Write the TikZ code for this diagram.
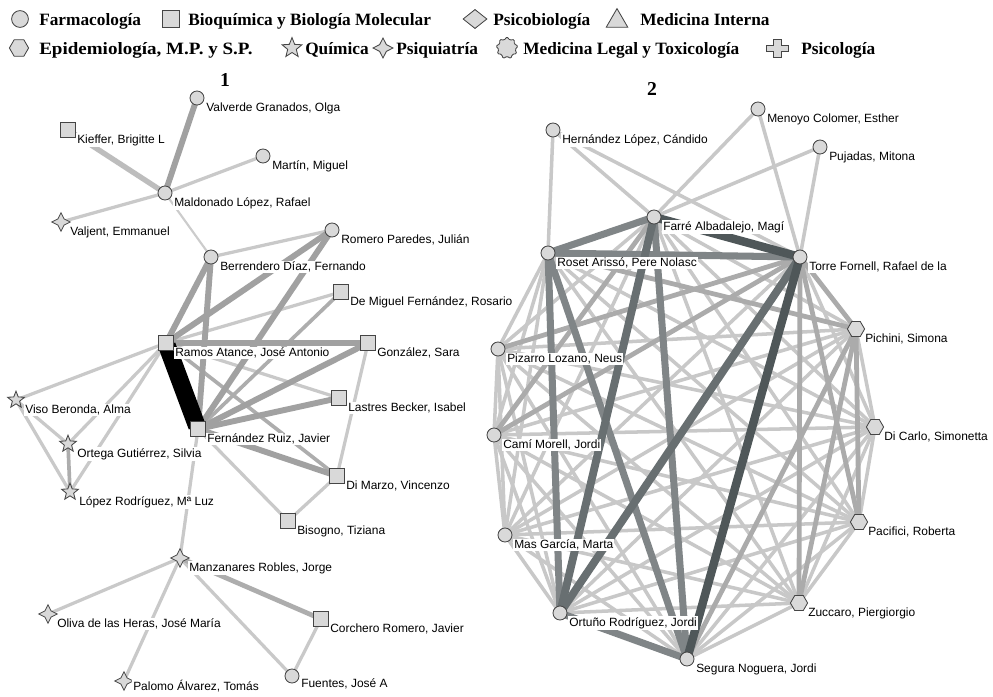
\documentclass[tikz,border=0pt]{standalone}
\usepackage{fontspec}
\setmainfont{Liberation Serif}
\newfontfamily\lblfont{Liberation Sans}
\usetikzlibrary{shapes.geometric}
\pgfdeclarelayer{paper}
\pgfdeclarelayer{edges}
\pgfsetlayers{paper,edges,main}

\definecolor{nodefill}{HTML}{D9D9D9}
\definecolor{nodeline}{HTML}{454545}
\definecolor{ed1}{HTML}{4F5759}
\definecolor{ed2}{HTML}{686F71}
\definecolor{ed3}{HTML}{808587}
\definecolor{edm}{HTML}{ABABAB}
\definecolor{edl}{HTML}{C8C8C8}

% edge between two named nodes, centre to centre
\newcommand\wire[3][rl]{\draw[#1] (#2.center) -- (#3.center);}
% author node: [label offset], shape style, name, position, printed name
\newcommand\netnode[5][8,10]{%
  \node[#2] (#3) at (#4) {};
  \node[lbl] (#3-name) at ([shift={(#1)}]#3.center) {#5};}

\begin{document}
\begin{tikzpicture}[x=0.025cm,y=-0.025cm,
  nd/.style={draw=nodeline, fill=nodefill, line width=0.6pt, inner sep=0pt},
  farm/.style={nd, circle, minimum size=0.35cm},
  bioq/.style={nd, rectangle, minimum size=0.37cm},
  quim/.style={nd, star, star points=5, star point ratio=2.3, minimum size=0.44cm},
  psiq/.style={nd, star, star points=4, star point ratio=2.1, minimum size=0.46cm},
  epid/.style={nd, regular polygon, regular polygon sides=6, minimum size=0.43cm},
  psicob/.style={nd, diamond, minimum width=0.6cm, minimum height=0.48cm},
  medint/.style={nd, regular polygon, regular polygon sides=3, minimum size=0.62cm},
  medleg/.style={nd, star, star points=9, star point ratio=1.35, rounded corners=0.8pt, minimum size=0.56cm},
  lbl/.style={font=\lblfont\fontsize{8.5}{10}\selectfont, fill=white, inner sep=0.7pt, anchor=west},
  legtxt/.style={font=\fontsize{12.3}{15}\selectfont\bfseries, anchor=base west, inner sep=0pt},
  ttl/.style={font=\fontsize{14}{16}\selectfont\bfseries, inner sep=0pt},
  % network 1 edges
  lblack/.style={draw=black, line width=12.5pt, shorten <=2pt, shorten >=2pt},
  lthick/.style={draw=black!37, line width=4.2pt},
  lpale/.style={draw=black!26, line width=3.8pt},
  lmed/.style={draw=black!32, line width=2.6pt},
  llight/.style={draw=black!21, line width=2.3pt},
  lthin/.style={draw=black!20, line width=1.5pt},
  % network 2 edges
  rd1/.style={draw=ed1, line width=6pt},
  rd2/.style={draw=ed2, line width=5.6pt},
  rd3/.style={draw=ed3, line width=5pt},
  rm/.style={draw=edm, line width=3.4pt},
  rl/.style={draw=edl, line width=2.5pt},
]
\begin{pgfonlayer}{paper}
\fill[white] (0,0) rectangle (993,697);
\end{pgfonlayer}
\useasboundingbox (0,0) rectangle (993,697);

% ---------------- legend ----------------
\node[farm, minimum size=0.42cm] (lgfarm) at (20,19) {};
\node[legtxt] (lgfarmt) at (39,25) {Farmacología};
\node[bioq, minimum size=0.42cm] (lgbioq) at (171,19) {};
\node[legtxt] (lgbioqt) at (188,25) {Bioquímica y Biología Molecular};
\node[psicob] (lgpsicob) at (475,19) {};
\node[legtxt] (lgpsicobt) at (493,25) {Psicobiología};
\node[medint] (lgmedint) at (617,21) {};
\node[legtxt] (lgmedintt) at (640,25) {Medicina Interna};

\node[epid, minimum size=0.48cm] (lgepid) at (19,48) {};
\node[legtxt, xscale=1.1, transform shape, anchor=base west] (lgepidt) at (39,54) {Epidemiología, M.P. y S.P.};
\node[quim, minimum size=0.52cm] (lgquim) at (292,48) {};
\node[legtxt] (lgquimt) at (305,54) {Química};
\node[psiq, minimum size=0.5cm] (lgpsiq) at (383,48) {};
\node[legtxt] (lgpsiqt) at (396,54) {Psiquiatría};
\node[medleg] (lgmedleg) at (507,48) {};
\node[legtxt] (lgmedlegt) at (523,54) {Medicina Legal y Toxicología};
\coordinate (lgpsicol) at (777,48);
\draw[nd] (lgpsicol) ++(-11,-3) -- ++(7,0) -- ++(0,-6) -- ++(8,0) -- ++(0,6) -- ++(7,0)
  -- ++(0,6) -- ++(-7,0) -- ++(0,6) -- ++(-8,0) -- ++(0,-6) -- ++(-7,0) -- cycle;
\node[legtxt] (lgpsicolt) at (801,54) {Psicología};

% ---------------- titles ----------------
\node[ttl] (title1) at (225,80) {1};
\node[ttl] (title2) at (652,89) {2};

% ---------------- network 1 ----------------
\netnode{farm}{valverde}{197,98}{Valverde Granados, Olga}
\netnode{bioq}{kieffer}{68,130}{Kieffer, Brigitte L}
\netnode{farm}{martin}{263,156}{Martín, Miguel}
\netnode{farm}{maldonado}{165,193}{Maldonado López, Rafael}
\netnode{psiq}{valjent}{61,222}{Valjent, Emmanuel}
\netnode{farm}{romero}{332,230}{Romero Paredes, Julián}
\netnode{farm}{berrendero}{211,257}{Berrendero Díaz, Fernando}
\netnode{bioq}{demiguel}{341,292}{De Miguel Fernández, Rosario}
\netnode{bioq}{ramos}{166,343}{Ramos Atance, José Antonio}
\netnode{bioq}{gonzalez}{368,343}{González, Sara}
\netnode{bioq}{lastres}{339,398}{Lastres Becker, Isabel}
\netnode{quim}{viso}{16,400}{Viso Beronda, Alma}
\netnode{bioq}{fernandez}{198,429}{Fernández Ruiz, Javier}
\netnode{quim}{ortega}{68,444}{Ortega Gutiérrez, Silvia}
\netnode{bioq}{dimarzo}{337,476}{Di Marzo, Vincenzo}
\netnode{quim}{lopez}{70,492}{López Rodríguez, Mª Luz}
\netnode{bioq}{bisogno}{288,521}{Bisogno, Tiziana}
\netnode{psiq}{manzanares}{180,558}{Manzanares Robles, Jorge}
\netnode{psiq}{oliva}{48,614}{Oliva de las Heras, José María}
\netnode{bioq}{corchero}{321,619}{Corchero Romero, Javier}
\netnode[8,5]{psiq}{palomo}{124,681}{Palomo Álvarez, Tomás}
\netnode[8,8]{farm}{fuentes}{292,676}{Fuentes, José A}

% ---------------- network 2 ----------------
\netnode{farm}{hernandez}{553,130}{Hernández López, Cándido}
\netnode{farm}{menoyo}{758,109}{Menoyo Colomer, Esther}
\netnode{farm}{pujadas}{820,147}{Pujadas, Mitona}
\netnode{farm}{farre}{654,217}{Farré Albadalejo, Magí}
\netnode{farm}{roset}{548,253}{Roset Arissó, Pere Nolasc}
\netnode{farm}{torre}{800,257}{Torre Fornell, Rafael de la}
\netnode{epid}{pichini}{856,329}{Pichini, Simona}
\netnode{farm}{pizarro}{498,349}{Pizarro Lozano, Neus}
\netnode{farm}{cami}{494,435}{Camí Morell, Jordi}
\netnode{epid}{dicarlo}{875,427}{Di Carlo, Simonetta}
\netnode{epid}{pacifici}{859,522}{Pacifici, Roberta}
\netnode{farm}{mas}{505,535}{Mas García, Marta}
\netnode{epid}{zuccaro}{799,603}{Zuccaro, Piergiorgio}
\netnode{farm}{ortuno}{560,613}{Ortuño Rodríguez, Jordi}
\netnode{farm}{segura}{687,659}{Segura Noguera, Jordi}

\begin{pgfonlayer}{edges}
% ---- network 1: light ties
\wire[lthin]{maldonado}{berrendero}
\wire[llight]{martin}{maldonado}
\wire[llight]{valjent}{maldonado}
\wire[llight]{berrendero}{romero}
\wire[llight]{demiguel}{ramos}
\wire[llight]{ramos}{lastres}
\wire[llight]{ramos}{viso}
\wire[llight]{ramos}{ortega}
\wire[llight]{ramos}{lopez}
\wire[llight]{gonzalez}{dimarzo}
\wire[llight]{fernandez}{bisogno}
\wire[llight]{dimarzo}{bisogno}
\wire[llight]{fernandez}{manzanares}
\wire[llight]{viso}{ortega}
\wire[llight]{viso}{lopez}
\wire[lmed]{ortega}{lopez}
\wire[llight]{manzanares}{oliva}
\wire[llight]{manzanares}{palomo}
\wire[llight]{manzanares}{fuentes}
\wire[llight]{corchero}{fuentes}
% ---- network 1: stronger ties
\wire[lpale]{kieffer}{maldonado}
\wire[lthick]{valverde}{maldonado}
\wire[lmed]{ramos}{dimarzo}
\wire[lmed]{demiguel}{fernandez}
\wire[lthick]{berrendero}{ramos}
\wire[lthick]{berrendero}{fernandez}
\wire[lthick]{romero}{ramos}
\wire[lthick]{romero}{fernandez}
\wire[lthick]{ramos}{gonzalez}
\wire[lthick]{gonzalez}{fernandez}
\wire[lthick]{lastres}{fernandez}
\wire[lthick]{dimarzo}{fernandez}
\wire[lmed, line width=3.4pt]{manzanares}{corchero}
\wire[lblack]{ramos}{fernandez}

% ---- network 2: peripheral ties
\wire{hernandez}{roset}
\wire{hernandez}{farre}
\wire{hernandez}{torre}
\wire{menoyo}{farre}
\wire{menoyo}{torre}
\wire{pujadas}{farre}
\wire{pujadas}{torre}
% ---- network 2: light ties
\wire{farre}{pichini}   \wire{farre}{pizarro}  \wire{farre}{dicarlo}
\wire{farre}{pacifici}  \wire{farre}{mas}      \wire{farre}{zuccaro}
\wire{roset}{pizarro}   \wire{roset}{cami}     \wire{roset}{dicarlo}
\wire{roset}{pacifici}  \wire{roset}{mas}      \wire{roset}{zuccaro}
\wire{torre}{dicarlo}   \wire{torre}{mas}
\wire{pichini}{pizarro} \wire{pichini}{cami}   \wire{pichini}{dicarlo}
\wire{pichini}{mas}     \wire{pichini}{ortuno}
\wire{pizarro}{cami}    \wire{pizarro}{dicarlo} \wire{pizarro}{pacifici}
\wire{pizarro}{mas}     \wire{pizarro}{zuccaro} \wire{pizarro}{ortuno}
\wire{pizarro}{segura}
\wire{cami}{dicarlo}    \wire{cami}{pacifici}  \wire{cami}{mas}
\wire{cami}{zuccaro}    \wire{cami}{ortuno}    \wire{cami}{segura}
\wire{dicarlo}{pacifici} \wire{dicarlo}{mas}   \wire{dicarlo}{zuccaro}
\wire{dicarlo}{ortuno}  \wire{dicarlo}{segura}
\wire{pacifici}{mas}    \wire{pacifici}{zuccaro} \wire{pacifici}{ortuno}
\wire{pacifici}{segura}
\wire{mas}{zuccaro}     \wire{mas}{ortuno}     \wire{mas}{segura}
\wire{zuccaro}{ortuno}  \wire{zuccaro}{segura}
% ---- network 2: medium ties
\wire[rm]{torre}{pichini}
\wire[rm]{pichini}{pacifici}
\wire[rm]{pichini}{zuccaro}
\wire[rm]{pichini}{segura}
\wire[rm]{torre}{zuccaro}
\wire[rm]{cami}{torre}
\wire[rm]{pizarro}{torre}
\wire[rm]{farre}{cami}
\wire[rm]{torre}{pacifici}
\wire[rm]{roset}{pichini}
% ---- network 2: strong ties
\wire[rd3]{farre}{roset}
\wire[rd3]{roset}{torre}
\wire[rd3]{roset}{ortuno}
\wire[rd3]{roset}{segura}
\wire[rd3]{farre}{segura}
\wire[rd3]{ortuno}{segura}
\wire[rd2]{farre}{ortuno}
\wire[rd2]{torre}{ortuno}
\wire[rd1]{farre}{torre}
\wire[rd1]{torre}{segura}
\end{pgfonlayer}
\end{tikzpicture}
\end{document}
